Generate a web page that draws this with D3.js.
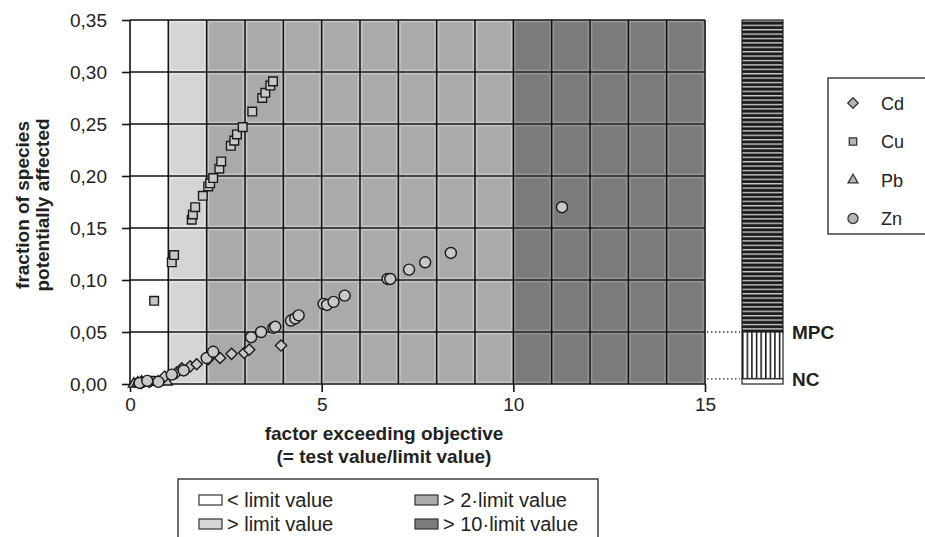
<!DOCTYPE html>
<html><head><meta charset="utf-8">
<script src="https://cdn.jsdelivr.net/npm/d3@7"></script>
<style>
body{margin:0;background:#fff;}
svg{display:block;font-family:Arial,"Liberation Sans",sans-serif;}
</style></head>
<body><svg id="c" width="925" height="537"></svg>
<script>
// ---- data ----
const seriesNames = ["Cd","Cu","Pb","Zn"];
const cd = [[0.3,0.001],[0.5,0.002],[0.9,0.007],[1.22,0.011],[1.35,0.015],[1.57,0.017],[1.74,0.019],[2.04,0.024],[2.35,0.025],[2.65,0.029],[2.98,0.030],[3.11,0.033],[3.94,0.037]];
const cu = [[0.25,0.001],[0.35,0.002],[0.45,0.002],[0.55,0.003],[0.63,0.080],[1.09,0.117],[1.15,0.124],[1.61,0.158],[1.64,0.163],[1.70,0.170],[1.90,0.181],[2.04,0.190],[2.09,0.193],[2.17,0.198],[2.33,0.207],[2.38,0.214],[2.63,0.229],[2.72,0.234],[2.79,0.240],[2.94,0.247],[3.19,0.262],[3.45,0.275],[3.53,0.280],[3.66,0.287],[3.73,0.291]];
const pb = [[0.1,0.0],[0.2,0.001],[0.3,0.002],[0.73,0.002],[0.96,0.002]];
const zn = [[0.25,0.001],[0.45,0.003],[0.74,0.002],[1.09,0.009],[1.4,0.013],[2.0,0.025],[2.17,0.031],[3.16,0.045],[3.42,0.050],[3.74,0.054],[3.79,0.055],[4.20,0.061],[4.31,0.063],[4.40,0.066],[5.05,0.077],[5.14,0.076],[5.31,0.079],[5.6,0.085],[6.72,0.101],[6.79,0.101],[7.28,0.110],[7.70,0.117],[8.37,0.126],[11.27,0.170]];
const yTicks = [0,0.05,0.10,0.15,0.20,0.25,0.30,0.35];
const xTicks = [0,5,10,15];
const zones = [[0,1],[1,2],[2,10],[10,15]];
const zoneLabels = ["< limit value","> limit value","> 2\u00b7limit value","> 10\u00b7limit value"];
const MPC = 0.05, NC = 0.005;

// ---- setup ----
const svg = d3.select("#c");
const x = d3.scaleLinear().domain([0,15]).range([130,705]);
const y = d3.scaleLinear().domain([0,0.35]).range([384,20]);
const zoneFill = ["#ffffff","#d5d5d5","#aaaaaa","#7b7b7b"];
const zoneEdge = ["#ffffff","#e4e4e4","#c4c4c4","#939393"];
const loc = d3.formatLocale({decimal:",",thousands:".",grouping:[3],currency:["",""]});
const fmt = loc.format(".2f");

// cells
const cells = [];
for (let i=0;i<15;i++) for (let j=0;j<7;j++){
  const z = zones.findIndex(zz => i>=zz[0] && i<zz[1]);
  cells.push({i,j,z});
}
const g = svg.append("g");
g.selectAll("rect.cell").data(cells).join("rect")
  .attr("x",d=>x(d.i)+1.5).attr("y",d=>y((d.j+1)*0.05)+1.5)
  .attr("width",d=>x(d.i+1)-x(d.i)-3).attr("height",d=>y(d.j*0.05)-y((d.j+1)*0.05)-3)
  .attr("fill",d=>zoneFill[d.z]).attr("stroke",d=>zoneEdge[d.z]).attr("stroke-width",2);

// grid lines
g.selectAll("line.v").data(d3.range(1,16)).join("line")
  .attr("x1",d=>x(d)).attr("x2",d=>x(d)).attr("y1",y(0.35)).attr("y2",y(0))
  .attr("stroke","#111").attr("stroke-width",1.6);
g.selectAll("line.h").data(yTicks.slice(1)).join("line")
  .attr("x1",x(0)).attr("x2",x(15)).attr("y1",d=>y(d)).attr("y2",d=>y(d))
  .attr("stroke","#111").attr("stroke-width",1.6);

// axes
const ya = svg.append("g").attr("transform",`translate(${x(0)},0)`)
  .call(d3.axisLeft(y).tickValues(yTicks).tickFormat(fmt).tickSize(8).tickPadding(15));
const xa = svg.append("g").attr("transform",`translate(0,${y(0)})`)
  .call(d3.axisBottom(x).tickValues(xTicks).tickFormat(d3.format("d")).tickSize(8).tickPadding(6));
[ya,xa].forEach(a=>{
  a.selectAll("path,line").attr("stroke","#111").attr("stroke-width",1.6);
  a.selectAll("text").attr("font-size",19).attr("fill","#222").attr("font-family","Arial,'Liberation Sans',sans-serif");
});
xa.select("path.domain").attr("d",`M${x(0)},0H${x(15)}`);
ya.select("path.domain").attr("d",`M0,${y(0)}V${y(0.35)}`);

// markers
const sym = {
  Cd: d3.symbol().type(d3.symbolDiamond2).size(80),
  Cu: d3.symbol().type(d3.symbolSquare2).size(95),
  Pb: d3.symbol().type(d3.symbolTriangle2).size(85),
  Zn: d3.symbol().type(d3.symbolCircle).size(95)
};
const series = [["Pb",pb],["Cu",cu],["Cd",cd],["Zn",zn]];
series.forEach(([name,data])=>{
  svg.append("g").selectAll("path").data(data).join("path")
    .attr("transform",d=>`translate(${x(d[0])},${y(d[1])})`)
    .attr("d",sym[name]).attr("fill","#c8c8c8").attr("stroke","#1a1a1a").attr("stroke-width",1.4);
});

// axis titles
svg.append("text").attr("x",384).attr("y",440).attr("text-anchor","middle")
  .attr("font-weight","bold").attr("font-size",19).attr("fill","#222").text("factor exceeding objective");
svg.append("text").attr("x",384).attr("y",463).attr("text-anchor","middle")
  .attr("font-weight","bold").attr("font-size",19).attr("fill","#222").text("(= test value/limit value)");
const yt = svg.append("text").attr("transform","translate(0,205) rotate(-90)").attr("text-anchor","middle")
  .attr("font-weight","bold").attr("font-size",19).attr("fill","#222");
yt.append("tspan").attr("x",0).attr("y",29).text("fraction of species");
yt.append("tspan").attr("x",0).attr("y",49).text("potentially affected");

// right bar
const defs = svg.append("defs");
const ph = defs.append("pattern").attr("id","hstripe").attr("patternUnits","userSpaceOnUse").attr("width",8).attr("height",4.4);
ph.append("rect").attr("width",8).attr("height",4.4).attr("fill","#1a1a1a");
ph.append("rect").attr("y",2.6).attr("width",8).attr("height",1.4).attr("fill","#c8c8c8");
const pv = defs.append("pattern").attr("id","vstripe").attr("patternUnits","userSpaceOnUse").attr("width",4.6).attr("height",8).attr("x",742);
pv.append("rect").attr("width",4.6).attr("height",8).attr("fill","#fff");
pv.append("rect").attr("x",0).attr("width",1.5).attr("height",8).attr("fill","#111");
const bx0 = 742, bx1 = 783;
const barSegs = [[MPC,0.35,"url(#hstripe)"],[NC,MPC,"url(#vstripe)"],[0,NC,"#fff"]];
svg.append("g").selectAll("rect").data(barSegs).join("rect")
  .attr("x",bx0).attr("width",bx1-bx0)
  .attr("y",d=>y(d[1])).attr("height",d=>y(d[0])-y(d[1]))
  .attr("fill",d=>d[2]).attr("stroke","#222").attr("stroke-width",1.2);
svg.append("g").selectAll("line").data([MPC,NC]).join("line")
  .attr("x1",x(15)+2).attr("x2",bx0-2).attr("y1",d=>y(d)).attr("y2",d=>y(d))
  .attr("stroke","#333").attr("stroke-width",1.3).attr("stroke-dasharray","1.5,2.5");
svg.append("g").selectAll("text").data([["MPC",MPC],["NC",NC]]).join("text")
  .attr("x",792).attr("y",d=>y(d[1])+7).attr("font-weight","bold").attr("font-size",19).attr("fill","#222").text(d=>d[0]);

// series legend
svg.append("rect").attr("x",828).attr("y",78).attr("width",130).attr("height",156)
  .attr("fill","#fff").attr("stroke","#333").attr("stroke-width",1.4);
const lg = svg.append("g").selectAll("g").data(seriesNames).join("g")
  .attr("transform",(d,i)=>`translate(853,${103+i*38.5})`);
lg.append("path").attr("d",d=>d3.symbol().type({Cd:d3.symbolDiamond2,Cu:d3.symbolSquare2,Pb:d3.symbolTriangle2,Zn:d3.symbolCircle}[d]).size(d==="Zn"?80:70)())
  .attr("fill","#b5b5b5").attr("stroke","#333").attr("stroke-width",1.3);
lg.append("text").attr("x",28).attr("y",6.5).attr("font-size",18).attr("fill","#222").text(d=>d);

// zone legend
svg.append("rect").attr("x",178).attr("y",479).attr("width",420).attr("height",80)
  .attr("fill","#fff").attr("stroke","#333").attr("stroke-width",1.4);
const zpos = [[199,495],[199,519],[415,495],[415,519]];
const zl = svg.append("g").selectAll("g").data(zoneLabels).join("g")
  .attr("transform",(d,i)=>`translate(${zpos[i][0]},${zpos[i][1]})`);
zl.append("rect").attr("width",23).attr("height",10).attr("fill",(d,i)=>zoneFill[i]).attr("stroke","#333").attr("stroke-width",1.2);
zl.append("text").attr("x",28).attr("y",12).attr("font-size",20).attr("fill","#222").text(d=>d);
</script></body></html>
